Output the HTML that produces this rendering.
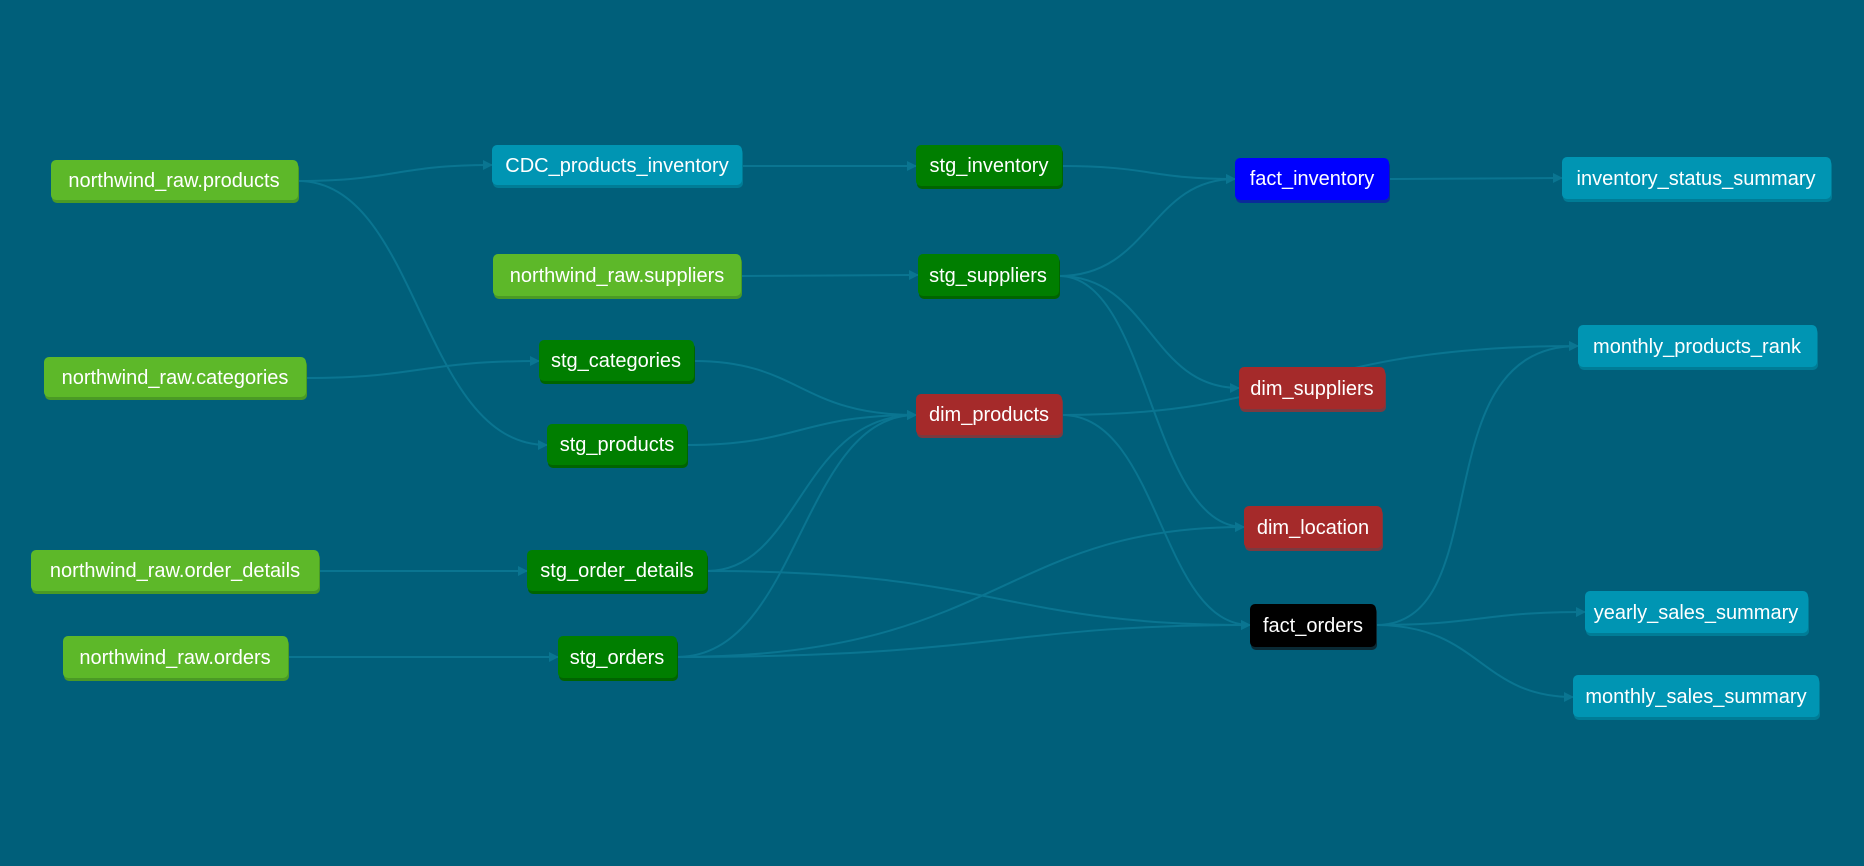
<!DOCTYPE html>
<html><head><meta charset="utf-8"><style>
html,body{margin:0;padding:0;background:#005f7a;}
svg{display:block}
text{font-family:"Liberation Sans",sans-serif;font-size:20px;fill:#fff;text-anchor:middle;dominant-baseline:central}
</style></head><body>
<svg width="1864" height="866" viewBox="0 0 1864 866" xmlns="http://www.w3.org/2000/svg">
<defs><marker id="a" viewBox="0 0 10 10" refX="9" refY="5" markerWidth="5" markerHeight="5" orient="auto"><path d="M0,0 L10,5 L0,10 z" fill="#0a7591"/></marker></defs>
<rect width="1864" height="866" fill="#005f7a"/>
<g fill="none" stroke="#0a7591" stroke-width="2" marker-end="url(#a)">
<path d="M298,181 C395,181 395,165 492,165"/>
<path d="M298,181 C420,181 420,445 547,445"/>
<path d="M741,276 C830,276 830,275 918,275"/>
<path d="M306,378 C420,378 420,361 539,361"/>
<path d="M319,571 C420,571 420,571 527,571"/>
<path d="M288,657 C420,657 420,657 558,657"/>
<path d="M742,166 C830,166 830,166 916,166"/>
<path d="M1062,166 C1150,166 1150,179 1235,179"/>
<path d="M1059,276 C1150,276 1150,179 1235,179"/>
<path d="M1059,276 C1150,276 1150,388 1239,388"/>
<path d="M1059,276 C1150,276 1150,527 1244,527"/>
<path d="M694,361 C800,361 800,415 916,415"/>
<path d="M687,445 C800,445 800,415 916,415"/>
<path d="M707,571 C800,571 800,415 916,415"/>
<path d="M677,657 C800,657 800,415 916,415"/>
<path d="M1062,415 C1300,415 1300,346 1578,346"/>
<path d="M1062,415 C1160,415 1160,625 1250,625"/>
<path d="M707,571 C1000,571 1000,625 1250,625"/>
<path d="M677,657 C1000,657 1000,625 1250,625"/>
<path d="M677,657 C1000,657 1000,527 1244,527"/>
<path d="M1389,179 C1480,179 1480,178 1562,178"/>
<path d="M1376,625 C1500,625 1420,346 1578,346"/>
<path d="M1376,625 C1480,625 1480,612 1585,612"/>
<path d="M1376,625 C1480,625 1480,697 1573,697"/>
</g>
<g>
<g fill="#4a9a25"><rect x="52" y="163" width="247" height="40" rx="5"/><rect x="494" y="257" width="248" height="42" rx="5"/><rect x="45" y="360" width="262" height="40" rx="5"/><rect x="32" y="553" width="288" height="41" rx="5"/><rect x="64" y="639" width="225" height="42" rx="5"/></g>
<g fill="#5db829"><rect x="51" y="160" width="247" height="40" rx="5"/><rect x="493" y="254" width="248" height="42" rx="5"/><rect x="44" y="357" width="262" height="40" rx="5"/><rect x="31" y="550" width="288" height="41" rx="5"/><rect x="63" y="636" width="225" height="42" rx="5"/></g>
<g fill="#006400"><rect x="540" y="343" width="155" height="41" rx="5"/><rect x="548" y="427" width="140" height="41" rx="5"/><rect x="528" y="553" width="180" height="41" rx="5"/><rect x="559" y="639" width="119" height="42" rx="5"/><rect x="917" y="148" width="146" height="41" rx="5"/><rect x="919" y="257" width="141" height="42" rx="5"/></g>
<g fill="#007e00"><rect x="539" y="340" width="155" height="41" rx="5"/><rect x="547" y="424" width="140" height="41" rx="5"/><rect x="527" y="550" width="180" height="41" rx="5"/><rect x="558" y="636" width="119" height="42" rx="5"/><rect x="916" y="145" width="146" height="41" rx="5"/><rect x="918" y="254" width="141" height="42" rx="5"/></g>
<g fill="#007c96"><rect x="493" y="148" width="250" height="40" rx="5"/><rect x="1563" y="160" width="269" height="42" rx="5"/><rect x="1579" y="328" width="239" height="42" rx="5"/><rect x="1586" y="594" width="223" height="42" rx="5"/><rect x="1574" y="678" width="246" height="42" rx="5"/></g>
<g fill="#0095b3"><rect x="492" y="145" width="250" height="40" rx="5"/><rect x="1562" y="157" width="269" height="42" rx="5"/><rect x="1578" y="325" width="239" height="42" rx="5"/><rect x="1585" y="591" width="223" height="42" rx="5"/><rect x="1573" y="675" width="246" height="42" rx="5"/></g>
<g fill="#7a3a40"><rect x="917" y="397" width="146" height="41" rx="5"/><rect x="1240" y="370" width="146" height="42" rx="5"/><rect x="1245" y="509" width="138" height="42" rx="5"/></g>
<g fill="#a52a2a"><rect x="916" y="394" width="146" height="41" rx="5"/><rect x="1239" y="367" width="146" height="42" rx="5"/><rect x="1244" y="506" width="138" height="42" rx="5"/></g>
<rect x="1236" y="161" width="154" height="42" rx="5" fill="#0a2a9a"/>
<rect x="1235" y="158" width="154" height="42" rx="5" fill="#0000ff"/>
<rect x="1251" y="607" width="126" height="43" rx="5" fill="#0a2a35"/>
<rect x="1250" y="604" width="126" height="43" rx="5" fill="#000"/>
</g>
<g>
<text x="174" y="181">northwind_raw.products</text>
<text x="617" y="166">CDC_products_inventory</text>
<text x="617" y="276">northwind_raw.suppliers</text>
<text x="175" y="378">northwind_raw.categories</text>
<text x="616" y="361">stg_categories</text>
<text x="617" y="445">stg_products</text>
<text x="175" y="571">northwind_raw.order_details</text>
<text x="617" y="571">stg_order_details</text>
<text x="175" y="658">northwind_raw.orders</text>
<text x="617" y="658">stg_orders</text>
<text x="989" y="166">stg_inventory</text>
<text x="988" y="276">stg_suppliers</text>
<text x="989" y="415">dim_products</text>
<text x="1312" y="179">fact_inventory</text>
<text x="1312" y="389">dim_suppliers</text>
<text x="1313" y="528">dim_location</text>
<text x="1313" y="626">fact_orders</text>
<text x="1696" y="179">inventory_status_summary</text>
<text x="1697" y="347">monthly_products_rank</text>
<text x="1696" y="613">yearly_sales_summary</text>
<text x="1696" y="697">monthly_sales_summary</text>
</g>
</svg>
</body></html>
